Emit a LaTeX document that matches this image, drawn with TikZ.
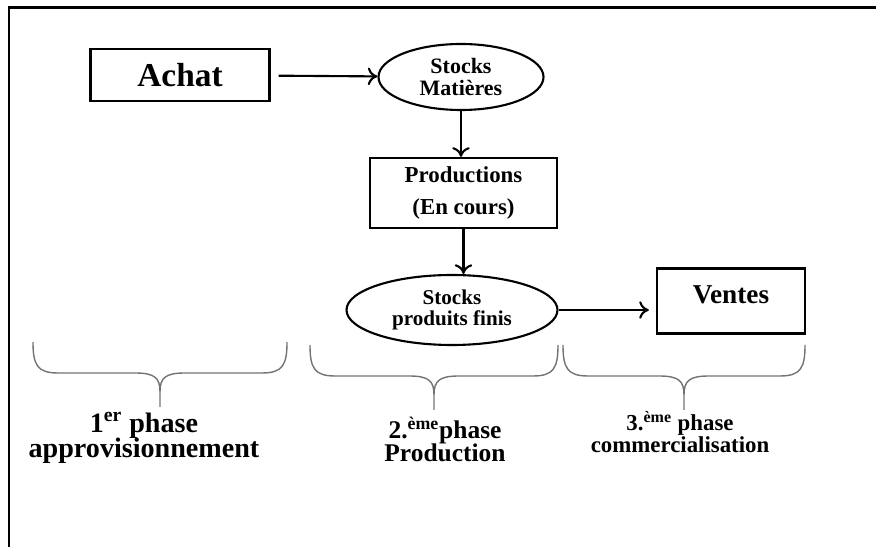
\documentclass[tikz,border=0pt]{standalone}
\usepackage{fontspec}
\setmainfont{Liberation Serif}
\usetikzlibrary{arrows.meta, shapes.geometric, calc}

\begin{document}
\begin{tikzpicture}[scale=1,
  box/.style={draw, rectangle, line width=1.3pt, inner sep=0pt, align=center},
  stock/.style={draw, ellipse, line width=1.2pt, inner sep=0pt, align=center},
  flow/.style={line width=1.2pt, -{To[length=5.5pt,width=10pt]}},
  tight/.style={execute at begin node={\lineskiplimit=-100pt\relax}},
  phasetext/.style={align=center, tight},
  pics/phase/.style={code={
    \draw[black!55, line width=0.8pt]
      (0,0) .. controls (0,-0.45) and (0.08,-0.62) .. (0.5,-0.62)
      -- ({#1/2-0.5},-0.62) .. controls ({#1/2-0.1},-0.62) and ({#1/2},-0.72) .. ({#1/2},-1.0)
      -- ({#1/2},-1.3)
      ({#1/2},-1.0) .. controls ({#1/2},-0.72) and ({#1/2+0.1},-0.62) .. ({#1/2+0.5},-0.62)
      -- ({#1-0.5},-0.62) .. controls ({#1-0.08},-0.62) and (#1,-0.45) .. (#1,0);
  }}]
  %\draw (0, 0) grid (17, 10);
  \useasboundingbox (0,0) rectangle (17.52,10.94);
  \draw[line width=1.7pt] (0.18,0) |- (17.52,10.78);

  % flow
  \node[box, minimum width=3.58cm, minimum height=1.04cm,
        font=\bfseries\fontsize{19}{22}\selectfont] (achat) at (3.6,9.44) {Achat};
  \node[stock, tight, minimum width=3.3cm, minimum height=1.32cm,
        font=\bfseries\fontsize{12.5}{12}\selectfont] (sm) at (9.22,9.4) {Stocks\\Matières};
  \node[box, minimum width=3.74cm, minimum height=1.4cm,
        font=\bfseries\fontsize{13}{18}\selectfont] (prod) at (9.27,7.08) {Productions\\(En cours)};
  \node[stock, tight, minimum width=4.22cm, minimum height=1.4cm,
        font=\bfseries\fontsize{12}{11.5}\selectfont] (spf) at (9.04,4.74) {Stocks\\produits finis};
  \node[box, minimum width=2.96cm, minimum height=1.3cm, text depth=6.8pt,
        font=\bfseries\fontsize{15.5}{18}\selectfont] (ventes) at (14.62,4.92) {Ventes};

  \draw[flow, shorten <=0.16cm] (achat) -- (sm);
  \draw[flow] (sm) -- (sm |- prod.north);
  \draw[flow] (prod.south) -- (prod.south |- spf.north);
  \draw[flow, shorten >=0.14cm] (spf.east) -- (spf.east -| ventes.west);

  % phases
  \pic at (0.66,4.1) {phase=5.08};
  \pic at (6.2,4.04) {phase=4.96};
  \pic at (11.26,4.04) {phase=4.84};

  \node[phasetext, font=\bfseries\fontsize{16}{14.5}\selectfont] (p1) at (2.88,2.18)
    {1\textsuperscript{er} phase\\approvisionnement};
  \node[phasetext, font=\bfseries\fontsize{14.5}{13}\selectfont] (p2) at (8.9,2.16)
    {2.\textsuperscript{ème}phase\\Production};
  \node[phasetext, font=\bfseries\fontsize{13}{12.5}\selectfont] (p3) at (13.6,2.3)
    {3.\textsuperscript{ème} phase\\commercialisation};

\end{tikzpicture}
\end{document}
